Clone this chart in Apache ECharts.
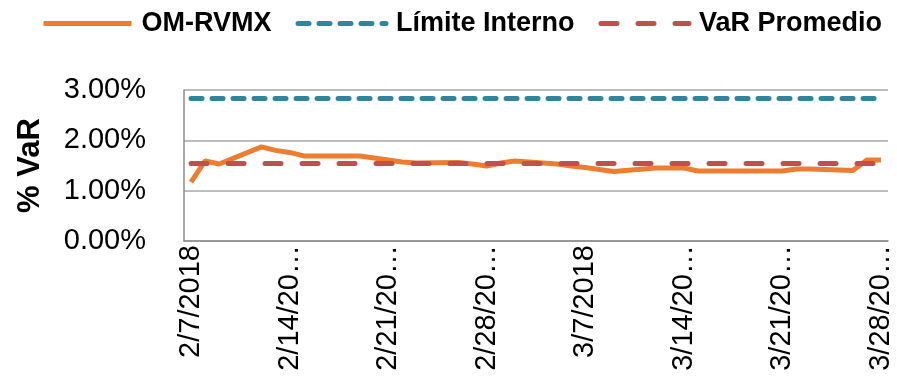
<!DOCTYPE html>
<html>
<head>
<meta charset="utf-8">
<script src="https://cdn.jsdelivr.net/npm/echarts@6/dist/echarts.min.js"></script>
<style>
  html, body { margin: 0; padding: 0; background: #fff; }
  #chart { width: 897px; height: 384px; }
</style>
</head>
<body>
<div id="chart"></div>
<script>
  // fechas del eje x (días naturales, 2/7/2018 - 3/28/2018)
  const fechas = [
    '2/7/2018', '2/8/2018', '2/9/2018', '2/10/2018', '2/11/2018', '2/12/2018', '2/13/2018',
    '2/14/2018', '2/15/2018', '2/16/2018', '2/17/2018', '2/18/2018', '2/19/2018', '2/20/2018',
    '2/21/2018', '2/22/2018', '2/23/2018', '2/24/2018', '2/25/2018', '2/26/2018', '2/27/2018',
    '2/28/2018', '3/1/2018', '3/2/2018', '3/3/2018', '3/4/2018', '3/5/2018', '3/6/2018',
    '3/7/2018', '3/8/2018', '3/9/2018', '3/10/2018', '3/11/2018', '3/12/2018', '3/13/2018',
    '3/14/2018', '3/15/2018', '3/16/2018', '3/17/2018', '3/18/2018', '3/19/2018', '3/20/2018',
    '3/21/2018', '3/22/2018', '3/23/2018', '3/24/2018', '3/25/2018', '3/26/2018', '3/27/2018',
    '3/28/2018'
  ]
  // VaR OM-RVMX en % (null = fin de semana)
  const omRvmx = [
    1.17, 1.59, 1.53, null, null, 1.87, 1.80,
    1.76, 1.69, 1.69, null, null, 1.69, 1.65,
    1.61, 1.57, 1.55, null, null, 1.56, 1.53,
    1.49, 1.55, 1.59, null, null, 1.53, 1.49,
    1.46, 1.42, 1.38, null, null, 1.45, 1.45,
    1.45, 1.39, 1.39, null, null, 1.39, 1.39,
    1.39, 1.43, 1.43, null, null, 1.40, 1.61,
    1.61
  ]
  const limiteInterno = 2.83 // constante
  const varPromedio = 1.54 // constante
  const yTicks = [0, 1, 2, 3]

  const chart = echarts.init(document.getElementById('chart'))
  const fuente = '"Liberation Sans", Arial, sans-serif'

  // estilos de línea (se reutilizan en la leyenda)
  const estiloOm = { color: '#ED7D31', width: 5, type: 'solid' }
  const estiloLimite = { color: '#31849B', width: 5, type: [11, 10], cap: 'round' }
  const estiloVar = { color: '#C0504D', width: 5, type: [16, 21], cap: 'round' }

  const option = {
    animation: false,
    legend: {
      top: 5,
      left: 36,
      itemWidth: 88,
      itemHeight: 14,
      itemGap: 24,
      itemStyle: { opacity: 0 },
      textStyle: {
        fontFamily: fuente,
        fontSize: 27,
        fontWeight: 'bold',
        color: '#000',
        padding: [0, 0, 0, 5]
      },
      data: [
        { name: 'OM-RVMX', lineStyle: estiloOm },
        { name: 'Límite Interno', lineStyle: estiloLimite },
        { name: 'VaR Promedio', lineStyle: estiloVar }
      ]
    },
    grid: {
      left: 184,
      right: 9,
      top: 90,
      bottom: 143
    },
    xAxis: {
      type: 'category',
      data: fechas,
      boundaryGap: true,
      axisLine: { lineStyle: { color: '#8c8c8c', width: 1.5 } },
      axisTick: { show: false },
      axisLabel: {
        interval: 6,
        rotate: 90,
        margin: 4,
        fontFamily: fuente,
        fontSize: 29,
        color: '#000',
        // las etiquetas largas se cortan como en Excel
        formatter: function(v) {
          return v.length > 8 ? v.slice(0, 7) + '…' : v
        }
      }
    },
    yAxis: {
      type: 'value',
      min: yTicks[0],
      max: yTicks[yTicks.length - 1],
      interval: 1,
      name: '% VaR',
      nameLocation: 'middle',
      nameRotate: 90,
      nameGap: 138,
      nameTextStyle: {
        fontFamily: fuente,
        fontSize: 31,
        fontWeight: 'bold',
        color: '#000'
      },
      axisLine: { show: true, lineStyle: { color: '#8c8c8c', width: 1.5 } },
      axisTick: { show: false },
      axisLabel: {
        margin: 38,
        fontFamily: fuente,
        fontSize: 29,
        color: '#000',
        formatter: function(v) { return v.toFixed(2) + '%' }
      },
      splitLine: { lineStyle: { color: '#a6a6a6', width: 1.5 } }
    },
    series: [
      {
        name: 'OM-RVMX',
        type: 'line',
        data: omRvmx,
        connectNulls: true,
        symbol: 'none',
        z: 3,
        color: '#ED7D31',
        lineStyle: estiloOm
      },
      {
        name: 'Límite Interno',
        type: 'line',
        data: fechas.map(() => limiteInterno),
        symbol: 'none',
        color: '#31849B',
        lineStyle: estiloLimite
      },
      {
        name: 'VaR Promedio',
        type: 'line',
        data: fechas.map(() => varPromedio),
        symbol: 'none',
        z: 4,
        color: '#C0504D',
        lineStyle: estiloVar
      }
    ]
  }
  chart.setOption(option)
</script>
</body>
</html>
